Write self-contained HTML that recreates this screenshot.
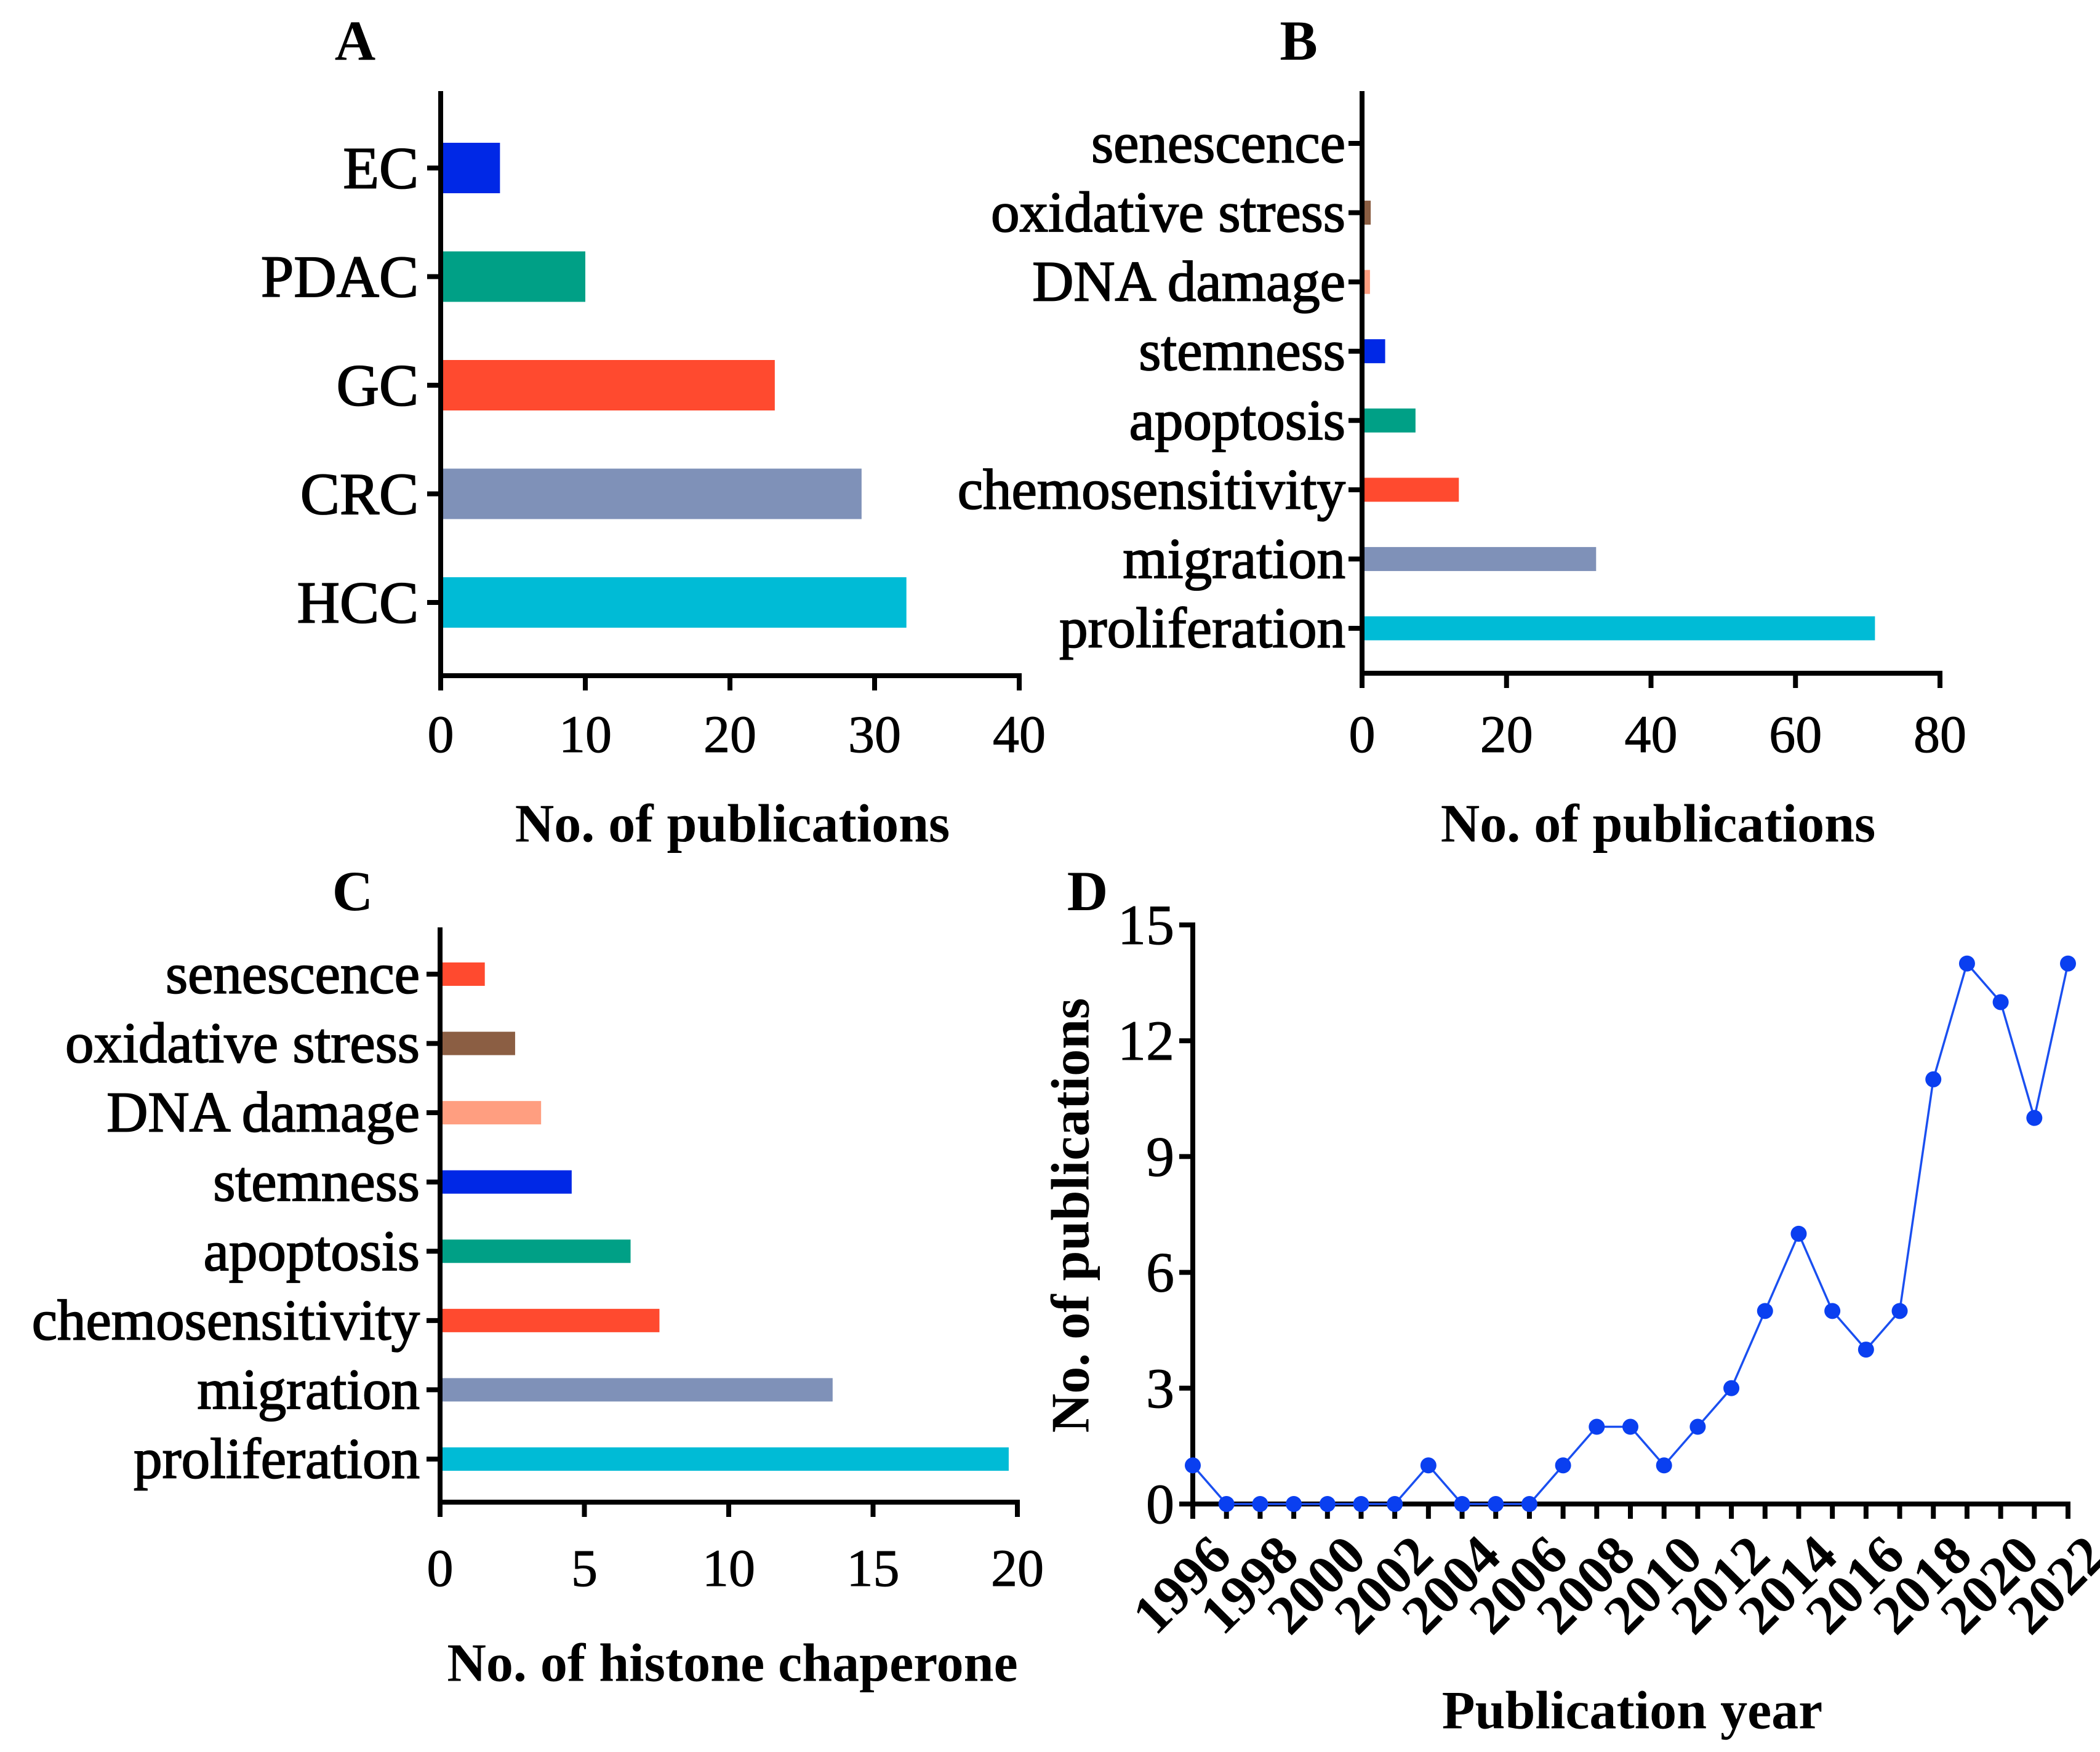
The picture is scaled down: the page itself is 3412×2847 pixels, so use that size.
<!DOCTYPE html>
<html><head><meta charset="utf-8"><style>
html,body{margin:0;padding:0;background:#fff;}
svg{display:block;}
text{font-family:"Liberation Serif",serif;fill:#000;}
</style></head><body>
<svg id="fig" width="3412" height="2847" viewBox="0 0 3412 2847" xmlns="http://www.w3.org/2000/svg">
<text x="577" y="66" font-size="92" font-weight="bold" text-anchor="middle" dominant-baseline="central">A</text>
<text x="2110" y="66" font-size="92" font-weight="bold" text-anchor="middle" dominant-baseline="central">B</text>
<text x="573" y="1448" font-size="92" font-weight="bold" text-anchor="middle" dominant-baseline="central">C</text>
<text x="1767" y="1448" font-size="92" font-weight="bold" text-anchor="middle" dominant-baseline="central">D</text>
<g id="pa"></g>
<g id="pb"></g>
<g id="pc"></g>
<g id="pd"></g>
</svg>
<script>
const NS="http://www.w3.org/2000/svg";
// Panel A data
const aCategories=["EC","PDAC","GC","CRC","HCC"];
const aValues=[4.1,10,23.1,29.1,32.2];
const aTicks=[0,10,20,30,40];
const aColors=["#0028e6","#00a086","#ff4a2f","#7f91b8","#00bbd6"];
// Panel B data
const bCategories=["senescence","oxidative stress","DNA damage","stemness","apoptosis","chemosensitivity","migration","proliferation"];
const bValues=[0,1.2,1.1,3.2,7.4,13.4,32.4,71];
const bTicks=[0,20,40,60,80];
const bColors=["#ff4a2f","#8b5e43","#ff9e80","#0028e6","#00a086","#ff4a2f","#7f91b8","#00bbd6"];
// Panel C data
const cCategories=["senescence","oxidative stress","DNA damage","stemness","apoptosis","chemosensitivity","migration","proliferation"];
const cValues=[1.55,2.6,3.5,4.56,6.6,7.6,13.6,19.7];
const cTicks=[0,5,10,15,20];
const cColors=["#ff4a2f","#8b5e43","#ff9e80","#0028e6","#00a086","#ff4a2f","#7f91b8","#00bbd6"];
// Panel D data
const dYears=[1996,1997,1998,1999,2000,2001,2002,2003,2004,2005,2006,2007,2008,2009,2010,2011,2012,2013,2014,2015,2016,2017,2018,2019,2020,2021,2022];
const dValues=[1,0,0,0,0,0,0,1,0,0,0,1,2,2,1,2,3,5,7,5,4,5,11,14,13,10,14];
const dYTicks=[0,3,6,9,12,15];
const dXLabels=[1996,1998,2000,2002,2004,2006,2008,2010,2012,2014,2016,2018,2020,2022];

function mk(parent,tag,attrs){const e=document.createElementNS(NS,tag);for(const k in attrs)e.setAttribute(k,attrs[k]);parent.appendChild(e);return e;}

function barChart(g,cfg,cats,vals,ticks,colors,prefix){
  const xs=v=>cfg.x0+(v-ticks[0])/(ticks[ticks.length-1]-ticks[0])*(cfg.x1-cfg.x0);
  const ys=i=>cfg.yFirst+i*(cfg.yLast-cfg.yFirst)/(cats.length-1);
  cats.forEach((c,i)=>{
    const w=Math.max(0,xs(vals[i])-cfg.x0);
    const r=mk(g,'rect',{x:cfg.x0,y:ys(i)-cfg.bh/2,width:w,height:cfg.bh,fill:colors[i]});
    
    
    const t=mk(g,'line',{x1:cfg.x0-22,x2:cfg.x0,y1:ys(i),y2:ys(i),stroke:'#000','stroke-width':8});
    
    
    const l=mk(g,'text',{x:cfg.labelX,y:ys(i),'font-size':cfg.catFs,'text-anchor':'end','dominant-baseline':'central',stroke:'#000','stroke-width':1.8});
    l.textContent=c;
    
    
  });
  const ya=mk(g,'line',{x1:cfg.x0,x2:cfg.x0,y1:cfg.yTop,y2:cfg.yAxis+4,stroke:'#000','stroke-width':8});
  
  
  const xa=mk(g,'line',{x1:cfg.x0-4,x2:cfg.x1+4,y1:cfg.yAxis,y2:cfg.yAxis,stroke:'#000','stroke-width':8});
  
  
  ticks.forEach(v=>{
    const t=mk(g,'line',{x1:xs(v),x2:xs(v),y1:cfg.yAxis,y2:cfg.yAxis+24,stroke:'#000','stroke-width':8});
    
    
    const l=mk(g,'text',{x:xs(v),y:cfg.tickY,'font-size':86,'text-anchor':'middle','dominant-baseline':'central',stroke:'#000','stroke-width':1});
    l.textContent=v;
    
    
  });
  const tt=mk(g,'text',{x:cfg.titleX,y:cfg.titleY,'font-size':88,'font-weight':'bold','text-anchor':'middle','dominant-baseline':'central'});
  tt.textContent=cfg.title;
  
  
}

barChart(document.getElementById('pa'),{x0:716,x1:1656,yFirst:273,yLast:979,bh:82,yTop:148,yAxis:1098,labelX:680,catFs:96,tickY:1193,titleX:1190,titleY:1339,title:"No. of publications"},aCategories,aValues,aTicks,aColors,'a');
barChart(document.getElementById('pb'),{x0:2213,x1:3152,yFirst:233,yLast:1021,bh:39,yTop:148,yAxis:1094,labelX:2186,catFs:93,tickY:1193,titleX:2694,titleY:1339,title:"No. of publications"},bCategories,bValues,bTicks,bColors,'b');
barChart(document.getElementById('pc'),{x0:715,x1:1653,yFirst:1583,yLast:2371,bh:38,yTop:1507,yAxis:2441,labelX:682,catFs:93,tickY:2548,titleX:1190,titleY:2703,title:"No. of histone chaperone"},cCategories,cValues,cTicks,cColors,'c');

(function(){
  const g=document.getElementById('pd');
  const x0=1938,x1=3360,y0=2444,y15=1503;
  const xs=yr=>x0+(yr-dYears[0])/(dYears[dYears.length-1]-dYears[0])*(x1-x0);
  const ys=v=>y0-(v-dYTicks[0])/(dYTicks[dYTicks.length-1]-dYTicks[0])*(y0-y15);
  const ya=mk(g,'line',{x1:x0,x2:x0,y1:y15-4,y2:y0+4,stroke:'#000','stroke-width':8});
  
  
  const xa=mk(g,'line',{x1:x0-4,x2:x1+4,y1:y0,y2:y0,stroke:'#000','stroke-width':8});
  
  
  dYTicks.forEach(v=>{
    const t=mk(g,'line',{x1:x0-22,x2:x0,y1:ys(v),y2:ys(v),stroke:'#000','stroke-width':8});
    
    
    const l=mk(g,'text',{x:x0-30,y:ys(v),'font-size':92,'text-anchor':'end','dominant-baseline':'central',stroke:'#000','stroke-width':1});
    l.textContent=v;
    
    
  });
  dYears.forEach(yr=>{
    const t=mk(g,'line',{x1:xs(yr),x2:xs(yr),y1:y0,y2:y0+24,stroke:'#000','stroke-width':8});
    
    
  });
  dXLabels.forEach(yr=>{
    const x=xs(yr)+22,y=y0+44;
    const l=mk(g,'text',{x:x,y:y,'font-size':90,'font-weight':'bold','text-anchor':'end','dominant-baseline':'hanging',transform:`rotate(-45 ${x} ${y})`});
    l.textContent=yr;
    
    
  });
  const pts=dYears.map((yr,i)=>xs(yr)+','+ys(dValues[i])).join(' ');
  const pl=mk(g,'polyline',{points:pts,fill:'none',stroke:'#1a4ff0','stroke-width':3.5});
  
  
  dYears.forEach((yr,i)=>{
    const c=mk(g,'circle',{cx:xs(yr),cy:ys(dValues[i]),r:13,fill:'#0a3ff0'});
    
    
  });
  const yt=mk(g,'text',{x:1740,y:1975,'font-size':88,'font-weight':'bold','text-anchor':'middle','dominant-baseline':'central',transform:'rotate(-90 1740 1975)'});
  yt.textContent="No. of publications";
  
  
  const xt=mk(g,'text',{x:2652,y:2780,'font-size':88,'font-weight':'bold','text-anchor':'middle','dominant-baseline':'central'});
  xt.textContent="Publication year";
  
  
})();
</script>
</body></html>
